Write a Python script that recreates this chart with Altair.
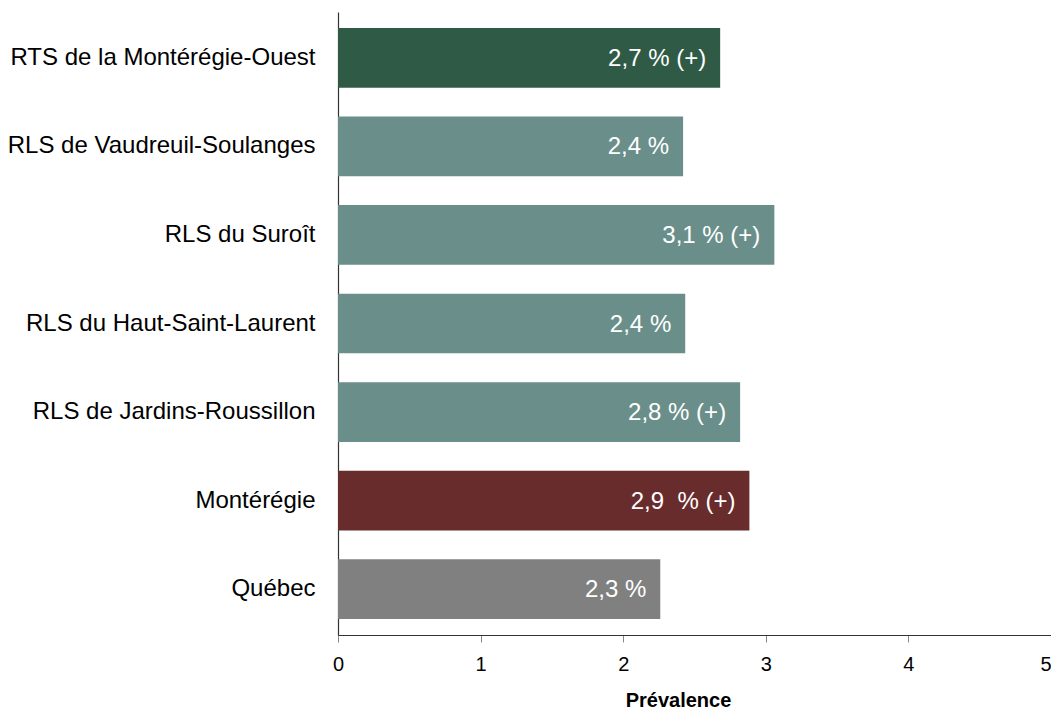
import altair as alt
import pandas as pd

categories = [
    "RTS de la Montérégie-Ouest",
    "RLS de Vaudreuil-Soulanges",
    "RLS du Suroît",
    "RLS du Haut-Saint-Laurent",
    "RLS de Jardins-Roussillon",
    "Montérégie",
    "Québec",
]
values = [2.68, 2.42, 3.06, 2.435, 2.82, 2.885, 2.26]
labels = ["2,7 % (+)", "2,4 %", "3,1 % (+)", "2,4 %", "2,8 % (+)", "2,9\u00a0 % (+)", "2,3 %"]
groups = ["rts", "rls", "rls", "rls", "rls", "mont", "qc"]
group_domain = ["rts", "rls", "mont", "qc"]
group_colors = ["#2F5A46", "#6A8F8A", "#692C2D", "#808080"]
x_ticks = [0, 1, 2, 3, 4, 5]

df = pd.DataFrame({"cat": categories, "val": values, "lab": labels, "grp": groups})

FONT = "Liberation Sans"

y_enc = alt.Y(
    "cat:N",
    sort=categories,
    title=None,
    scale=alt.Scale(paddingInner=0.326, paddingOuter=0.18),
    axis=alt.Axis(
        ticks=False,
        labelFontSize=24,
        labelFont=FONT,
        labelColor="#000000",
        labelPadding=23,
        labelLimit=500,
        domainColor="#333333",
        domainWidth=1.2,
    ),
)

bars = alt.Chart(df).mark_bar().encode(
    y=y_enc,
    x=alt.X(
        "val:Q",
        scale=alt.Scale(domain=[0, 5], nice=False),
        title="Prévalence",
        axis=alt.Axis(
            values=x_ticks,
            format="d",
            grid=False,
            labelFlush=False,
            labelAlign={"expr": "datum.value == 5 ? 'right' : 'center'"},
            tickSize=7,
            tickColor="#888888",
            domainColor="#333333",
            domainWidth=1.2,
            labelFontSize=20,
            labelFont=FONT,
            labelColor="#000000",
            labelPadding=12,
            titleFont=FONT,
            titleFontSize=20,
            titleFontWeight="bold",
            titleColor="#000000",
            titleX=340,
            titleY=71,
            titleAlign="center",
            titleBaseline="alphabetic",
        ),
    ),
    color=alt.Color(
        "grp:N",
        scale=alt.Scale(domain=group_domain, range=group_colors),
        legend=None,
    ),
)

text = alt.Chart(df).mark_text(
    align="right", baseline="middle", dx=-14, dy=1, color="white",
    fontSize=24, font=FONT,
).encode(
    y=alt.Y("cat:N", sort=categories),
    x=alt.X("val:Q"),
    text="lab:N",
)

chart = (bars + text).properties(
    width=713,
    height=623,
    autosize=alt.AutoSizeParams(type="none"),
    padding={"left": 330, "top": 4, "right": 0, "bottom": 74},
).configure_view(stroke=None)

chart.save("out.html", embed_options={"renderer": "svg", "actions": False})
